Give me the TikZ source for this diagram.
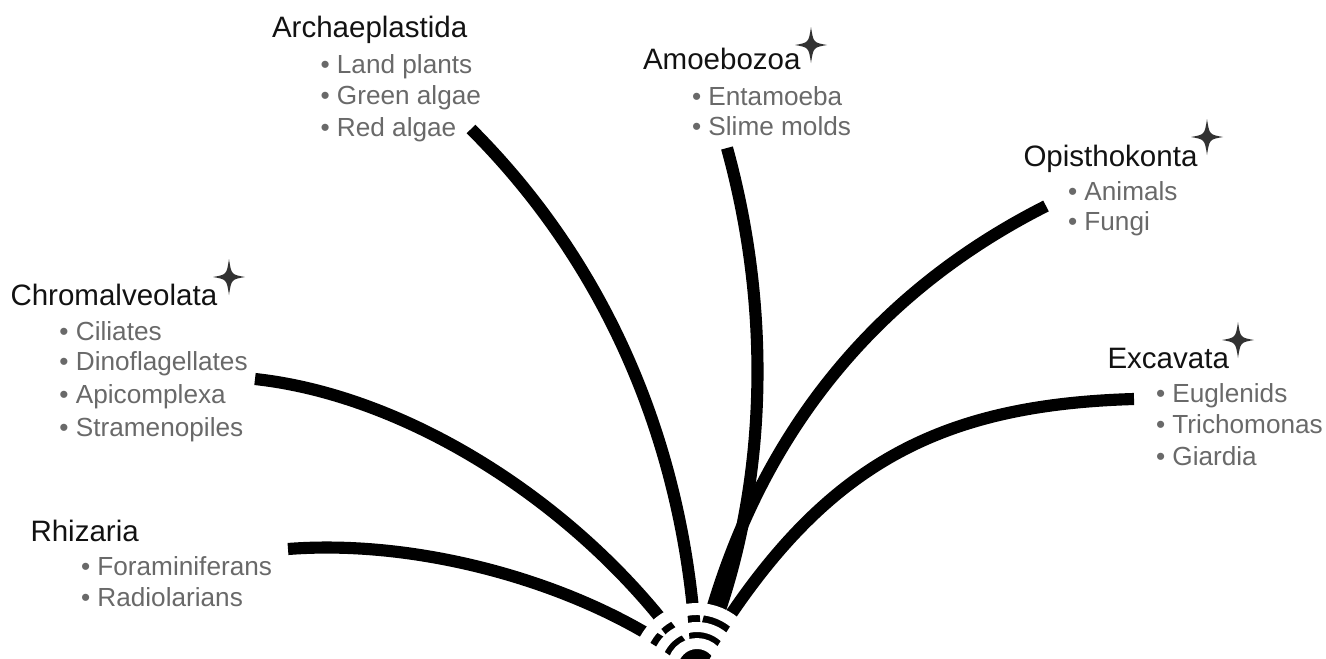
\documentclass[tikz,border=0pt]{standalone}
\usepackage{fontspec}
\setmainfont{Liberation Sans}
\definecolor{itemgray}{RGB}{105,105,105}
\definecolor{titleblack}{RGB}{18,18,18}
\definecolor{starcol}{RGB}{50,50,50}
\tikzset{
  grouptitle/.style={anchor=base west, inner sep=0pt, outer sep=0pt, text=titleblack, font=\fontsize{16.8}{20}\selectfont},
  groupitem/.style={anchor=base west, inner sep=0pt, outer sep=0pt, text=itemgray, font=\fontsize{14.9}{18}\selectfont},
  branch/.style={line width=6.9pt, black},
  gapring/.style={white},
  fstar/.pic={\fill[starcol] (0,-18) .. controls (2.4,-2.4) .. (16,0) .. controls (2.4,2.4) .. (0,18) .. controls (-2.4,2.4) .. (-16,0) .. controls (-2.4,-2.4) .. cycle;}
}
\begin{document}
\begin{tikzpicture}[x=0.02cm, y=-0.02cm]
\useasboundingbox (0,0) rectangle (1326,659);
\clip (0,0) rectangle (1326,659);

% group labels
\node[grouptitle] (tArch) at (272,37) {Archaeplastida};
\node[groupitem] (iArchA) at (320.5,73) {• Land plants};
\node[groupitem] (iArchB) at (320.5,104) {• Green algae};
\node[groupitem] (iArchC) at (320.5,136) {• Red algae};

\node[grouptitle] (tAmoe) at (643,70) {Amoebozoa};
\node[groupitem] (iAmoeA) at (692,105) {• Entamoeba};
\node[groupitem] (iAmoeB) at (692,135) {• Slime molds};
\pic at (811,45) {fstar};

\node[grouptitle] (tOpis) at (1023.5,166) {Opisthokonta};
\node[groupitem] (iOpisA) at (1068,200) {• Animals};
\node[groupitem] (iOpisB) at (1068,230) {• Fungi};
\pic at (1207,137) {fstar};

\node[grouptitle] (tChrom) at (10.5,305) {Chromalveolata};
\node[groupitem] (iChromA) at (59.5,340) {• Ciliates};
\node[groupitem] (iChromB) at (59.5,370) {• Dinoflagellates};
\node[groupitem] (iChromC) at (59.5,403) {• Apicomplexa};
\node[groupitem] (iChromD) at (59.5,436) {• Stramenopiles};
\pic at (229,277) {fstar};

\node[grouptitle] (tExc) at (1107.5,368) {Excavata};
\node[groupitem] (iExcA) at (1156,402) {• Euglenids};
\node[groupitem] (iExcB) at (1156,433) {• Trichomonas};
\node[groupitem] (iExcC) at (1156,465) {• Giardia};
\pic at (1238,340) {fstar};

\node[grouptitle] (tRhiz) at (30.5,541) {Rhizaria};
\node[groupitem] (iRhizA) at (81,575) {• Foraminiferans};
\node[groupitem] (iRhizB) at (81,606) {• Radiolarians};

% branch end points
\coordinate (root) at (697,668);
\coordinate (rhizE) at (288,549);
\coordinate (chromE) at (255,379);
\coordinate (archE) at (471,129);
\coordinate (amoeE) at (727,148);
\coordinate (opisE) at (1046,206);
\coordinate (excE) at (1134,399);

% branches
\draw[branch] (rhizE) .. controls (430,538) and (600,590) .. (root);
\draw[branch] (chromE) .. controls (420,397) and (600,520) .. (root);
\draw[branch] (archE) .. controls (620,278) and (690,470) .. (root);
\draw[branch] (amoeE) .. controls (780,340) and (760,530) .. (root);
\draw[branch] (opisE) .. controls (850,305) and (740,470) .. (root);
\draw[branch] (excE) .. controls (930,405) and (814,470) .. (root);

% gaps that break the branches into dashes near the root
\draw[gapring, line width=6.8pt] (root) circle[radius=59];
\draw[gapring, line width=5.7pt] (root) circle[radius=41];
\draw[gapring, line width=6.2pt] (root) circle[radius=24.5];
\end{tikzpicture}
\end{document}
